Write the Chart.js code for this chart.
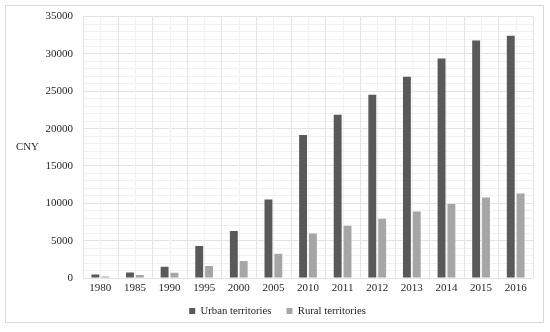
<!DOCTYPE html>
<html>
<head>
<meta charset="utf-8">
<script src="https://cdn.jsdelivr.net/npm/chart.js@4/dist/chart.umd.min.js"></script>
<style>
  html, body { margin: 0; padding: 0; background: #ffffff; }
  #wrap { position: relative; width: 550px; height: 332px; }
</style>
</head>
<body>
<div id="wrap"><canvas id="c" width="550" height="332"></canvas></div>
<script>
const years = ['1980','1985','1990','1995','2000','2005','2010','2011','2012','2013','2014','2015','2016'];
const urban = [480, 740, 1510, 4290, 6300, 10500, 19150, 21850, 24550, 26950, 29400, 31800, 32450];
const rural = [200, 400, 690, 1590, 2260, 3250, 5950, 6990, 7920, 8910, 9920, 10780, 11300];
const yTicksMajor = [0, 5000, 10000, 15000, 20000, 25000, 30000, 35000];
const yAxisTitle = 'CNY';
const seriesNames = ['Urban territories', 'Rural territories'];

const FONT = "'Liberation Serif', 'Times New Roman', serif";
const TEXT = '#1f1f1f';
const GRID_MAJOR = '#e3e3e3';
const GRID_MINOR = '#f1f1f1';

const framePlugin = {
  id: 'frame',
  afterLayout(chart) {
    const lg = chart.legend;
    if (lg) {
      lg.left += 11;
      lg.right += 11;
      lg.top -= 4.5;
      lg.bottom -= 4.5;
    }
  },
  beforeDraw(chart) {
    const ctx = chart.ctx;
    ctx.save();
    ctx.fillStyle = '#ffffff';
    ctx.fillRect(0, 0, chart.width, chart.height);
    ctx.strokeStyle = '#d9d9d9';
    ctx.lineWidth = 1;
    ctx.strokeRect(5.5, 5.5, 538, 317);
    ctx.restore();
  },
  beforeDatasetsDraw(chart) {
    // vertical grid: category boundaries (major) and category centres (minor), from the x scale
    const x = chart.scales.x, area = chart.chartArea, ctx = chart.ctx;
    const n = chart.data.labels.length;
    const half = (x.getPixelForValue(1) - x.getPixelForValue(0)) / 2;
    ctx.save();
    ctx.lineWidth = 1;
    const vline = (px, color) => {
      const p = Math.round(px) + 0.5;
      ctx.strokeStyle = color;
      ctx.beginPath();
      ctx.moveTo(p, area.top);
      ctx.lineTo(p, area.bottom);
      ctx.stroke();
    };
    for (let i = 0; i < n; i++) {
      vline(x.getPixelForValue(i), GRID_MINOR);
    }
    for (let i = 0; i < n; i++) {
      vline(x.getPixelForValue(i) - half, GRID_MAJOR);
    }
    vline(x.getPixelForValue(n - 1) + half, GRID_MAJOR);
    ctx.restore();
  },
  afterDraw(chart) {
    const ctx = chart.ctx;
    ctx.save();
    ctx.fillStyle = TEXT;
    ctx.font = '10.8px ' + FONT;
    ctx.textAlign = 'left';
    ctx.textBaseline = 'middle';
    ctx.fillText(yAxisTitle, 16, 147);
    ctx.restore();
  }
};

new Chart(document.getElementById('c'), {
  type: 'bar',
  data: {
    labels: years,
    datasets: [
      { label: seriesNames[0], data: urban, backgroundColor: '#595959', categoryPercentage: 0.57, barPercentage: 0.8 },
      { label: seriesNames[1], data: rural, backgroundColor: '#a6a6a6', categoryPercentage: 0.57, barPercentage: 0.8 }
    ]
  },
  options: {
    responsive: false,
    animation: false,
    devicePixelRatio: 1,
    layout: { padding: { left: 0, right: 17, top: 16, bottom: 1.1 } },
    plugins: {
      legend: {
        position: 'bottom',
        labels: {
          font: { family: FONT, size: 10.7 },
          color: TEXT,
          boxWidth: 6,
          boxHeight: 6,
          padding: 15
        }
      },
      tooltip: { enabled: false }
    },
    scales: {
      x: {
        offset: true,
        grid: { display: false, drawTicks: false },
        border: { display: false },
        ticks: { font: { family: FONT, size: 11 }, color: TEXT, padding: 4, maxRotation: 0, autoSkip: false },
        afterFit(s) { s.height = 17.2; }
      },
      y: {
        min: 0,
        max: 35000,
        border: { display: false },
        grid: {
          drawTicks: false,
          color: (c) => (c.tick && yTicksMajor.includes(c.tick.value)) ? GRID_MAJOR : GRID_MINOR
        },
        ticks: {
          stepSize: 1000,
          autoSkip: false,
          maxTicksLimit: 100,
          padding: 10,
          font: { family: FONT, size: 11 },
          color: TEXT,
          callback: (v) => yTicksMajor.includes(v) ? String(v) : ''
        },
        afterFit(s) { s.width = 83; }
      }
    }
  },
  plugins: [framePlugin]
});
</script>
</body>
</html>
